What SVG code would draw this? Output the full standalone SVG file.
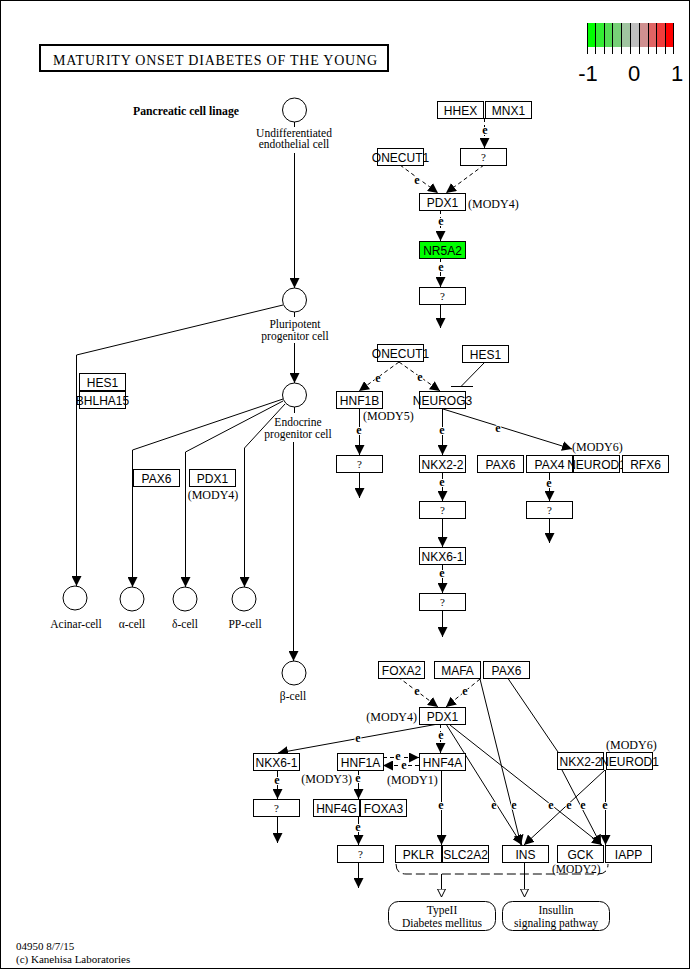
<svg xmlns="http://www.w3.org/2000/svg" width="691" height="970" viewBox="0 0 691 970">
<defs>
<marker id="ar" markerUnits="userSpaceOnUse" markerWidth="11" markerHeight="10" refX="10" refY="5" orient="auto"><path d="M0,0 L10,5 L0,10 z" fill="#000"/></marker>
<marker id="oa" markerUnits="userSpaceOnUse" markerWidth="10" markerHeight="9" refX="8.5" refY="4.5" orient="auto"><path d="M0.5,0.5 L8.5,4.5 L0.5,8.5 z" fill="#fff" stroke="#000" stroke-width="1"/></marker>
</defs>
<style>
.b{fill:#fff;stroke:#000;stroke-width:1}
.t{font-family:"Liberation Sans",Arial,sans-serif;font-size:12px;text-anchor:middle;fill:#000}
.s{font-family:"Liberation Serif","Times New Roman",serif;font-size:12px;fill:#000}
.c{font-family:"Liberation Serif","Times New Roman",serif;font-size:11.5px;fill:#000;text-anchor:middle}
.e{font-family:"Liberation Serif","Times New Roman",serif;font-size:12px;font-weight:bold;text-anchor:middle;fill:#000;stroke:#fff;stroke-width:2px;paint-order:stroke}
.q{font-family:"Liberation Serif","Times New Roman",serif;font-size:11px;text-anchor:middle;fill:#000}
.l{fill:none;stroke:#000;stroke-width:1}
.d{fill:none;stroke:#000;stroke-width:1;stroke-dasharray:4,3}
.a{marker-end:url(#ar)}
.cell{fill:#fff;stroke:#000;stroke-width:1}
</style>
<rect x="0.5" y="0.5" width="689" height="968" fill="#fff" stroke="#000"/>

<g id="title">
<rect x="40" y="45" width="348" height="26" fill="#fff" stroke="#000" stroke-width="2"/>
<text x="53" y="64.5" class="s" style="font-size:14px" textLength="324" lengthAdjust="spacing">MATURITY ONSET DIABETES OF THE YOUNG</text>
</g>

<g id="legend">
<rect x="587" y="23" width="9" height="24" fill="#00ff00"/>
<rect x="596" y="23" width="8" height="24" fill="#33ee33"/>
<rect x="604" y="23" width="9" height="24" fill="#55dd55"/>
<rect x="613" y="23" width="9" height="24" fill="#77d077"/>
<rect x="622" y="23" width="8" height="24" fill="#a0c4a0"/>
<rect x="630" y="23" width="9" height="24" fill="#bfbfbf"/>
<rect x="639" y="23" width="9" height="24" fill="#d09090"/>
<rect x="648" y="23" width="8" height="24" fill="#e06464"/>
<rect x="656" y="23" width="9" height="24" fill="#f03c3c"/>
<rect x="665" y="23" width="9" height="24" fill="#ff0000"/>
<path class="l" d="M587.5,23V54M595.5,23V54M604.5,23V54M612.5,23V54M621.5,23V54M630.5,23V54M639.5,23V54M648.5,23V54M656.5,23V54M665.5,23V54M673.5,23V54"/>
<text x="588" y="81" style="font-family:'Liberation Sans',Arial,sans-serif;font-size:22px;text-anchor:middle">-1</text>
<text x="634" y="81" style="font-family:'Liberation Sans',Arial,sans-serif;font-size:22px;text-anchor:middle">0</text>
<text x="677" y="81" style="font-family:'Liberation Sans',Arial,sans-serif;font-size:22px;text-anchor:middle">1</text>
</g>

<g id="connectors">
<path class="l" d="M294.5,122V127"/>
<path class="l a" d="M294.5,153V288"/>
<path class="l" d="M294.5,312V317"/>
<path class="l a" d="M294.5,343V383"/>
<path class="l a" d="M283,305L76.5,355V586"/>
<path class="l" d="M294.5,407V413"/>
<path class="l a" d="M293.5,442V661"/>
<path class="l a" d="M283,399L132.5,450V587"/>
<path class="l a" d="M283,401L185.5,452V587"/>
<path class="l a" d="M285,404L244.5,448V587"/>
<path class="d a" d="M484.5,118V148"/>
<path class="d a" d="M400,165L438,193"/>
<path class="d a" d="M484,165L446,193"/>
<path class="d a" d="M440.5,210V241"/>
<path class="d a" d="M440.5,258V287"/>
<path class="l a" d="M440.5,304V328"/>
<path class="d a" d="M399,362L359,391"/>
<path class="d a" d="M399,362L440,391"/>
<path class="l" d="M485,362L461,386.5M451,386.5H473"/>
<path class="l a" d="M359.5,408V455"/>
<path class="l a" d="M359.5,472V498"/>
<path class="l a" d="M442.5,408V455"/>
<path class="l a" d="M442.5,472V501"/>
<path class="l a" d="M442.5,518V547"/>
<path class="l a" d="M442.5,564V593"/>
<path class="l a" d="M442.5,610V637"/>
<path class="l a" d="M443,409L572,449"/>
<path class="l a" d="M549.5,472V501"/>
<path class="l a" d="M549.5,518V543"/>
<path class="d a" d="M398,677L438,707"/>
<path class="d a" d="M480,679L446,707"/>
<path class="l a" d="M438,724L278,753"/>
<path class="d a" d="M440.5,724V753"/>
<path class="d a" d="M383,757.5H419"/>
<path class="d a" d="M419,765.5H383"/>
<path class="l a" d="M358.5,770V799"/>
<path class="l a" d="M358.5,816V845"/>
<path class="l a" d="M358.5,862V888"/>
<path class="l a" d="M277.5,770V799"/>
<path class="l a" d="M277.5,816V843"/>
<path class="l a" d="M441.5,770V845"/>
<path class="l a" d="M446,724L522,845"/>
<path class="l a" d="M480,679L521,845"/>
<path class="l a" d="M450,725L602,845"/>
<path class="l" d="M507,677L558,752"/>
<path class="l a" d="M562,770L601,845"/>
<path class="l a" d="M605,770L524,845"/>
<path class="l a" d="M605.5,770V845"/>
<path class="l" d="M396,864Q396,874 406,874H598Q608,874 608,864" style="stroke-dasharray:9,4"/>
<path class="l" d="M441.5,874V897" style="marker-end:url(#oa)"/>
<path class="l" d="M524.5,862V897" style="marker-end:url(#oa)"/>
<text class="e" x="485" y="134">e</text>
<text class="e" x="417" y="184">e</text>
<text class="e" x="441" y="225">e</text>
<text class="e" x="441" y="271">e</text>
<text class="e" x="378" y="382">e</text>
<text class="e" x="420" y="381">e</text>
<text class="e" x="359" y="434">e</text>
<text class="e" x="442" y="434">e</text>
<text class="e" x="442" y="486">e</text>
<text class="e" x="442" y="577">e</text>
<text class="e" x="498" y="432">e</text>
<text class="e" x="549" y="487">e</text>
<text class="e" x="417" y="695">e</text>
<text class="e" x="465" y="695">e</text>
<text class="e" x="358" y="742">e</text>
<text class="e" x="441" y="739">e</text>
<text class="e" x="398" y="760">e</text>
<text class="e" x="404" y="769">e</text>
<text class="e" x="358" y="782">e</text>
<text class="e" x="358" y="831">e</text>
<text class="e" x="277" y="784">e</text>
<text class="e" x="441" y="809">e</text>
<text class="e" x="494" y="809">e</text>
<text class="e" x="514" y="809">e</text>
<text class="e" x="551" y="809">e</text>
<text class="e" x="569" y="809">e</text>
<text class="e" x="583" y="809">e</text>
<text class="e" x="605" y="809">e</text>
</g>

<g id="cells">
<text x="133" y="115" class="s" style="font-weight:bold;font-size:12px" textLength="106" lengthAdjust="spacingAndGlyphs">Pancreatic cell linage</text>
<g id="n-undiff"><circle class="cell" cx="294.5" cy="110" r="12"/><text class="c" x="294" y="137">Undifferentiated</text><text class="c" x="294" y="148">endothelial cell</text></g>
<g id="n-pluri"><circle class="cell" cx="294.5" cy="300" r="12"/><text class="c" x="295" y="328">Pluripotent</text><text class="c" x="295" y="340">progenitor cell</text></g>
<g id="n-endo"><circle class="cell" cx="294.5" cy="395" r="12"/><text class="c" x="298" y="426">Endocrine</text><text class="c" x="298" y="438">progenitor cell</text></g>
<g id="n-acinar"><circle class="cell" cx="75" cy="598" r="12"/><text class="c" x="76" y="628">Acinar-cell</text></g>
<g id="n-alpha"><circle class="cell" cx="132" cy="599" r="12"/><text class="c" x="132" y="628">α-cell</text></g>
<g id="n-delta"><circle class="cell" cx="185" cy="599" r="12"/><text class="c" x="185" y="628">δ-cell</text></g>
<g id="n-pp"><circle class="cell" cx="244" cy="599" r="12"/><text class="c" x="245" y="628">PP-cell</text></g>
<g id="n-beta"><circle class="cell" cx="294" cy="673" r="12"/><text class="c" x="293" y="700">β-cell</text></g>
</g>

<g id="genes">
<g id="n-hes1-l"><rect class="b" x="79.5" y="373.5" width="46" height="17"/><text class="t" x="102.5" y="386.5">HES1</text></g>
<g id="n-bhlha15"><rect class="b" x="79.5" y="391.5" width="46" height="17"/><text class="t" x="102.5" y="404.5">BHLHA15</text></g>
<g id="n-pax6-l"><rect class="b" x="133.5" y="469.5" width="46" height="17"/><text class="t" x="156.5" y="482.5">PAX6</text></g>
<g id="n-pdx1-l"><rect class="b" x="189.5" y="469.5" width="46" height="17"/><text class="t" x="212.5" y="482.5">PDX1</text><text class="s" x="213" y="499" text-anchor="middle">(MODY4)</text></g>

<g id="n-hhex"><rect class="b" x="437.5" y="101.5" width="46" height="17"/><text class="t" x="460.5" y="114.5">HHEX</text></g>
<g id="n-mnx1"><rect class="b" x="485.5" y="101.5" width="46" height="17"/><text class="t" x="508.5" y="114.5">MNX1</text></g>
<g id="n-q1"><rect class="b" x="460.5" y="148.5" width="46" height="17"/><text class="q" x="483.5" y="161">?</text></g>
<g id="n-onecut1-a"><rect class="b" x="377.5" y="148.5" width="46" height="17"/><text class="t" x="400.5" y="161.5">ONECUT1</text></g>
<g id="n-pdx1-a"><rect class="b" x="419.5" y="193.5" width="46" height="17"/><text class="t" x="442.5" y="206.5">PDX1</text><text class="s" x="468" y="208">(MODY4)</text></g>
<g id="n-nr5a2"><rect x="419.5" y="241.5" width="46" height="17" fill="#00ff00" stroke="#000"/><text class="t" x="442.5" y="254.5">NR5A2</text></g>
<g id="n-q2"><rect class="b" x="419.5" y="287.5" width="46" height="17"/><text class="q" x="442.5" y="300">?</text></g>

<g id="n-onecut1-b"><rect class="b" x="377.5" y="344.5" width="46" height="17"/><text class="t" x="400.5" y="357.5">ONECUT1</text></g>
<g id="n-hes1"><rect class="b" x="462.5" y="345.5" width="46" height="17"/><text class="t" x="485.5" y="358.5">HES1</text></g>
<g id="n-hnf1b"><rect class="b" x="336.5" y="391.5" width="46" height="17"/><text class="t" x="359.5" y="404.5">HNF1B</text><text class="s" x="363" y="420">(MODY5)</text></g>
<g id="n-neurog3"><rect class="b" x="419.5" y="391.5" width="46" height="17"/><text class="t" x="442.5" y="404.5">NEUROG3</text></g>
<g id="n-q3"><rect class="b" x="336.5" y="455.5" width="46" height="17"/><text class="q" x="359.5" y="468">?</text></g>
<g id="n-nkx22-a"><rect class="b" x="419.5" y="455.5" width="46" height="17"/><text class="t" x="442.5" y="468.5">NKX2-2</text></g>
<g id="n-pax6-a"><rect class="b" x="477.5" y="455.5" width="46" height="17"/><text class="t" x="500.5" y="468.5">PAX6</text></g>
<g id="n-pax4"><rect class="b" x="526.5" y="455.5" width="46" height="17"/><text class="t" x="549.5" y="468.5">PAX4</text></g>
<g id="n-neurod1-a"><rect class="b" x="573.5" y="455.5" width="46" height="17"/><text class="t" x="596.5" y="468.5">NEUROD1</text><text class="s" x="572" y="451">(MODY6)</text></g>
<g id="n-rfx6"><rect class="b" x="622.5" y="455.5" width="46" height="17"/><text class="t" x="645.5" y="468.5">RFX6</text></g>
<g id="n-q4"><rect class="b" x="419.5" y="501.5" width="46" height="17"/><text class="q" x="442.5" y="514">?</text></g>
<g id="n-q5"><rect class="b" x="526.5" y="501.5" width="46" height="17"/><text class="q" x="549.5" y="514">?</text></g>
<g id="n-nkx61-a"><rect class="b" x="419.5" y="547.5" width="46" height="17"/><text class="t" x="442.5" y="560.5">NKX6-1</text></g>
<g id="n-q6"><rect class="b" x="419.5" y="593.5" width="46" height="17"/><text class="q" x="442.5" y="606">?</text></g>

<g id="n-foxa2"><rect class="b" x="378.5" y="661.5" width="46" height="17"/><text class="t" x="401.5" y="674.5">FOXA2</text></g>
<g id="n-mafa"><rect class="b" x="434.5" y="661.5" width="46" height="17"/><text class="t" x="457.5" y="674.5">MAFA</text></g>
<g id="n-pax6-b"><rect class="b" x="483.5" y="661.5" width="46" height="17"/><text class="t" x="506.5" y="674.5">PAX6</text></g>
<g id="n-pdx1-b"><rect class="b" x="419.5" y="707.5" width="46" height="17"/><text class="t" x="442.5" y="720.5">PDX1</text><text class="s" x="417" y="721" text-anchor="end">(MODY4)</text></g>
<g id="n-nkx61-b"><rect class="b" x="253.5" y="753.5" width="46" height="17"/><text class="t" x="276.5" y="766.5">NKX6-1</text></g>
<g id="n-hnf1a"><rect class="b" x="337.5" y="753.5" width="46" height="17"/><text class="t" x="360.5" y="766.5">HNF1A</text><text class="s" x="352" y="783" text-anchor="end">(MODY3)</text></g>
<g id="n-hnf4a"><rect class="b" x="419.5" y="753.5" width="46" height="17"/><text class="t" x="442.5" y="766.5">HNF4A</text><text class="s" x="387" y="784">(MODY1)</text></g>
<g id="n-nkx22-b"><rect class="b" x="557.5" y="752.5" width="46" height="17"/><text class="t" x="580.5" y="765.5">NKX2-2</text></g>
<g id="n-neurod1-b"><rect class="b" x="606.5" y="752.5" width="46" height="17"/><text class="t" x="629.5" y="765.5">NEUROD1</text><text class="s" x="606" y="749">(MODY6)</text></g>
<g id="n-q7"><rect class="b" x="253.5" y="799.5" width="46" height="17"/><text class="q" x="276.5" y="812">?</text></g>
<g id="n-hnf4g"><rect class="b" x="313.5" y="799.5" width="46" height="17"/><text class="t" x="336.5" y="812.5">HNF4G</text></g>
<g id="n-foxa3"><rect class="b" x="360.5" y="799.5" width="46" height="17"/><text class="t" x="383.5" y="812.5">FOXA3</text></g>
<g id="n-q8"><rect class="b" x="337.5" y="845.5" width="46" height="17"/><text class="q" x="360.5" y="858">?</text></g>
<g id="n-pklr"><rect class="b" x="395.5" y="845.5" width="46" height="17"/><text class="t" x="418.5" y="858.5">PKLR</text></g>
<g id="n-slc2a2"><rect class="b" x="442.5" y="845.5" width="46" height="17"/><text class="t" x="465.5" y="858.5">SLC2A2</text></g>
<g id="n-ins"><rect class="b" x="502.5" y="845.5" width="46" height="17"/><text class="t" x="525.5" y="858.5">INS</text></g>
<g id="n-gck"><rect class="b" x="557.5" y="845.5" width="46" height="17"/><text class="t" x="580.5" y="858.5">GCK</text><text class="s" x="552" y="873" style="font-size:11.5px">(MODY2)</text></g>
<g id="n-iapp"><rect class="b" x="605.5" y="845.5" width="46" height="17"/><text class="t" x="628.5" y="858.5">IAPP</text></g>
</g>

<g id="maps">
<g id="n-t2dm"><rect x="388.5" y="901.5" width="107" height="29" rx="10" class="b"/><text class="c" x="442" y="914" style="font-size:11.5px">TypeII</text><text class="c" x="442" y="927" style="font-size:11.5px">Diabetes mellitus</text></g>
<g id="n-insulin"><rect x="502.5" y="901.5" width="107" height="29" rx="10" class="b"/><text class="c" x="556" y="914" style="font-size:11.5px">Insullin</text><text class="c" x="556" y="927" style="font-size:11.5px">signaling pathway</text></g>
</g>

<g id="footer">
<text class="s" x="16" y="950" style="font-size:11px">04950 8/7/15</text>
<text class="s" x="16" y="963" style="font-size:11px">(c) Kanehisa Laboratories</text>
</g>
</svg>
